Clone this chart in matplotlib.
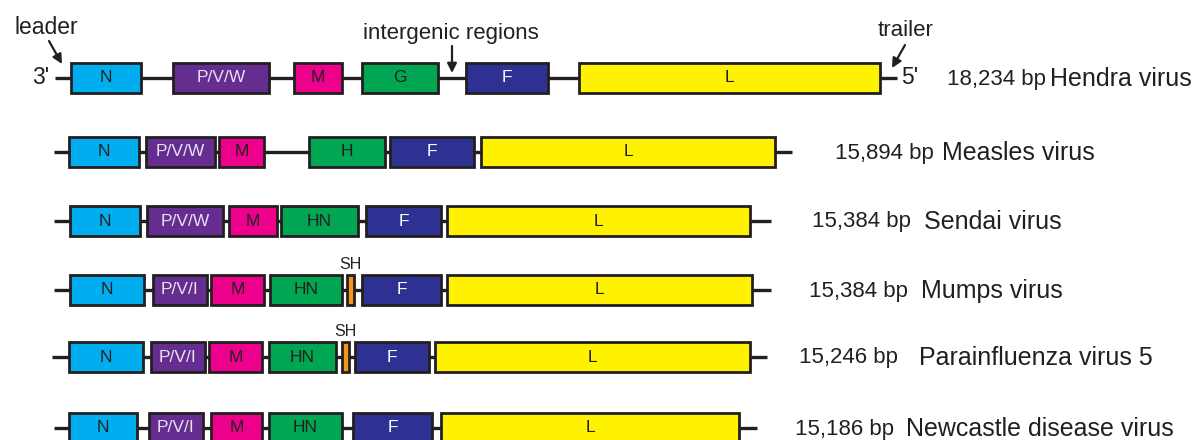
import matplotlib
matplotlib.use("Agg")
import matplotlib.pyplot as plt

plt.rcParams['font.family'] = ['Liberation Sans', 'DejaVu Sans']

# ---- data (pixel-like genome-map units) ----
viruses = ["Hendra virus", "Measles virus", "Sendai virus", "Mumps virus",
           "Parainfluenza virus 5", "Newcastle disease virus"]
sizes = ["18,234 bp", "15,894 bp", "15,384 bp", "15,384 bp", "15,246 bp", "15,186 bp"]
row_y = [78, 152, 221, 290, 357, 428]
line_span = [(55, 897), (54, 792), (54, 771), (54, 771), (52, 767), (54, 757)]

hendra_genes = ["N", "P/V/W", "M", "G", "F", "L"]
hendra_start = [71, 173, 294, 362, 466, 579]
hendra_end = [141, 269, 342, 438, 548, 880]

measles_genes = ["N", "P/V/W", "M", "H", "F", "L"]
measles_start = [69, 146, 219, 309, 390, 481]
measles_end = [139, 215, 264, 385, 474, 775]

sendai_genes = ["N", "P/V/W", "M", "HN", "F", "L"]
sendai_start = [70, 147, 229, 281, 366, 447]
sendai_end = [140, 223, 277, 358, 441, 750]

mumps_genes = ["N", "P/V/I", "M", "HN", "SH", "F", "L"]
mumps_start = [70, 153, 211, 270, 347, 362, 447]
mumps_end = [144, 207, 264, 342, 354, 441, 752]

piv5_genes = ["N", "P/V/I", "M", "HN", "SH", "F", "L"]
piv5_start = [69, 151, 209, 269, 342, 355, 435]
piv5_end = [143, 205, 262, 336, 349, 429, 750]

ndv_genes = ["N", "P/V/I", "M", "HN", "F", "L"]
ndv_start = [69, 149, 211, 269, 353, 441]
ndv_end = [137, 203, 262, 342, 432, 739]

genes_all = [hendra_genes, measles_genes, sendai_genes, mumps_genes, piv5_genes, ndv_genes]
start_all = [hendra_start, measles_start, sendai_start, mumps_start, piv5_start, ndv_start]
end_all = [hendra_end, measles_end, sendai_end, mumps_end, piv5_end, ndv_end]

size_x = [947, 835, 812, 809, 799, 795]
name_x = [1050, 942, 924, 921, 919, 906]

# ---- styles ----
fill = {"N": "#00AEEF", "P/V/W": "#662D91", "P/V/I": "#662D91", "M": "#EC008C",
        "G": "#00A651", "H": "#00A651", "HN": "#00A651", "F": "#2E3192",
        "L": "#FFF200", "SH": "#F7941D"}
txtcol = {"N": "#231F20", "P/V/W": "#E8E0F0", "P/V/I": "#E8E0F0", "M": "#231F20",
          "G": "#231F20", "H": "#231F20", "HN": "#231F20", "F": "#FFFFFF",
          "L": "#231F20", "SH": "#231F20"}
dark = "#231F20"

fig = plt.figure(figsize=(12, 4.4), dpi=100)
ax = fig.add_axes([0, 0, 1, 1])
ax.set_xlim(0, 1200)
ax.set_ylim(440, 0)
ax.axis("off")

box_h = 30
for i in range(len(viruses)):
    y = row_y[i]
    x0, x1 = line_span[i]
    ax.plot([x0, x1], [y, y], color=dark, lw=2.4, solid_capstyle="butt", zorder=1)
    for g, s, e in zip(genes_all[i], start_all[i], end_all[i]):
        ax.barh(y, e - s, left=s, height=box_h, color=fill[g],
                edgecolor=dark, linewidth=2.0, zorder=2)
        if g == "SH":
            ax.text((s + e) / 2, y - box_h / 2 - 3, "SH", ha="center", va="bottom",
                    fontsize=11.5, color=dark)
        else:
            ax.text((s + e) / 2, y, g, ha="center", va="center",
                    fontsize=12.5, color=txtcol[g], zorder=3)
    ax.text(size_x[i], y + 1, sizes[i], ha="left", va="center", fontsize=16, color=dark)
    ax.text(name_x[i], y + 1, viruses[i], ha="left", va="center", fontsize=18, color=dark)

# end labels and annotations (Hendra row)
ax.text(41, row_y[0], "3'", ha="center", va="center", fontsize=16.5, color=dark)
ax.text(910, row_y[0], "5'", ha="center", va="center", fontsize=16.5, color=dark)

arrow_kw = dict(arrowstyle="-|>", color=dark, lw=1.6, mutation_scale=14,
                shrinkA=0, shrinkB=0)
ax.text(46, 27, "leader", ha="center", va="center", fontsize=16.5, color=dark)
ax.annotate("", xy=(62, 64), xytext=(49, 41), arrowprops=arrow_kw)
ax.text(451, 33, "intergenic regions", ha="center", va="center", fontsize=16, color=dark)
ax.annotate("", xy=(452, 73), xytext=(452, 46), arrowprops=arrow_kw)
ax.text(906, 30, "trailer", ha="center", va="center", fontsize=16, color=dark)
ax.annotate("", xy=(892, 68), xytext=(905, 45), arrowprops=arrow_kw)

fig.savefig("out.png", dpi=100, facecolor="white")
